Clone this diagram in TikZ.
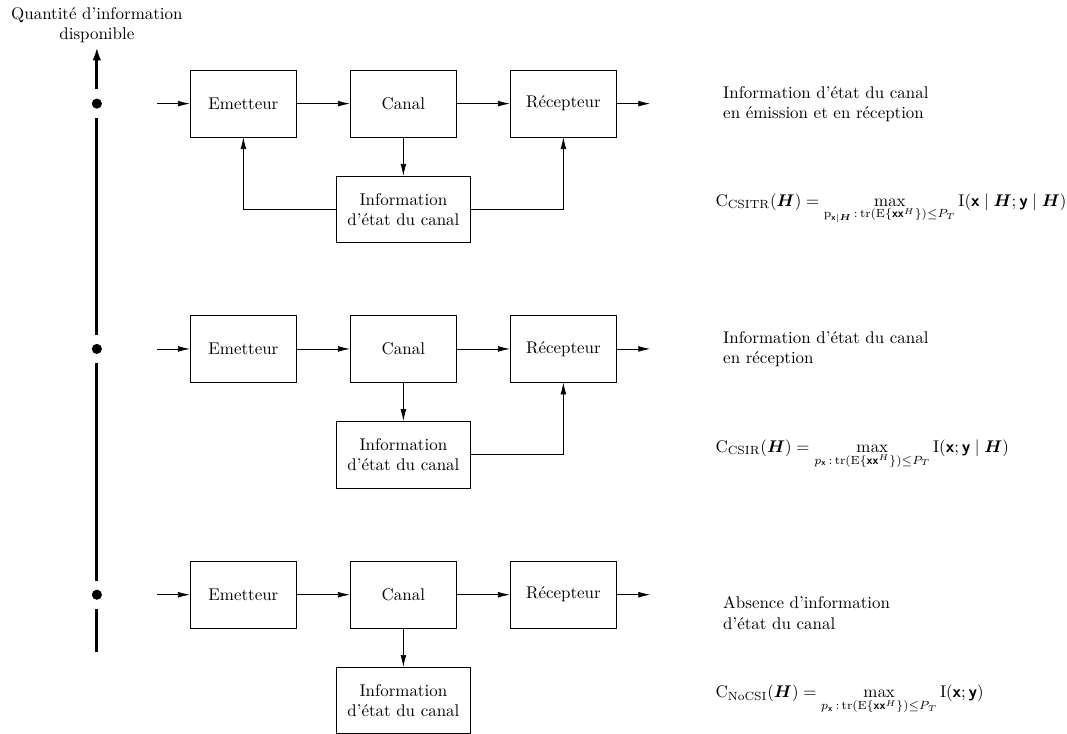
\documentclass[tikz,border=0pt]{standalone}
\usepackage{amsmath}
\usetikzlibrary{arrows.meta,positioning}
\newcommand{\vx}{\textsf{\bfseries x}}
\newcommand{\vy}{\textsf{\bfseries y}}
\newcommand{\mH}{\boldsymbol{H}}
\begin{document}
\begin{tikzpicture}[
        bloc/.style={draw,minimum width=2.21cm,minimum height=1.38cm},
        blocinfo/.style={draw,minimum width=2.77cm,minimum height=1.38cm,align=center},
        fleche/.style={-{Latex[length=7pt,width=3.4pt]}},
        point/.style={circle,fill,inner sep=0pt,minimum size=0.21cm,outer sep=0.19cm},
        axe/.style={line width=1.9pt,-{Latex[length=8pt,width=5pt]}},
        texte/.style={anchor=west,align=left,inner sep=0pt}]
    \useasboundingbox (0,0) rectangle (22.14,-15.23);
    \foreach \r/\y in {1/-2.15,2/-7.24,3/-12.34}{
        \node[point] (p\r) at (2.01,\y) {};
        \coordinate (e\r) at (3.26,\y);
        \node[bloc] (em\r) at (5.05,\y) {Emetteur};
        \node[bloc] (ca\r) at (8.37,\y) {Canal};
        \node[bloc] (re\r) at (11.69,\y) {Récepteur};
        \coordinate (s\r) at (13.49,\y);
        \node[blocinfo,below=0.8cm of ca\r] (in\r) {Information\\d'état du canal};
        \draw[fleche] (e\r) -- (em\r);
        \draw[fleche] (em\r) -- (ca\r);
        \draw[fleche] (ca\r) -- (re\r);
        \draw[fleche] (re\r) -- (s\r);
        \draw[fleche] (ca\r) -- (in\r);
    }
    \draw[fleche] (in1.west) -| (em1.south);
    \draw[fleche] (in1.east) -| (re1.south);
    \draw[fleche] (in2.east) -| (re2.south);
    \coordinate (bas) at (2.01,-13.53);
    \coordinate (haut) at (2.01,-0.97);
    \draw[axe] (bas) -- (p3) (p3) -- (p2) (p2) -- (p1) (p1) -- (haut);
    \node[above,align=center,inner sep=2pt] (titre) at (haut) {Quantité d'information\\disponible};
    \node[texte] (t1) at (15.0,-2.16) {Information d'état du canal\\en émission et en réception};
    \node[texte] (t2) at (15.0,-7.24) {Information d'état du canal\\en réception};
    \node[texte] (t3) at (15.0,-12.72) {Absence d'information\\d'état du canal};
    \node[texte] (f1) at (14.84,-4.33) {$\mathrm{C}_{\mathrm{CSITR}}(\mH) = \max\limits_{\mathrm{p}_{\vx|\mH}\,:\,\mathrm{tr}(\mathrm{E}\{\vx\vx^{H}\})\leq P_T} \mathrm{I}(\vx \mid \mH ; \vy \mid \mH)$};
    \node[texte] (f2) at (14.84,-9.42) {$\mathrm{C}_{\mathrm{CSIR}}(\mH) = \max\limits_{p_{\vx}\,:\,\mathrm{tr}(\mathrm{E}\{\vx\vx^{H}\})\leq P_T} \mathrm{I}(\vx ; \vy \mid \mH)$};
    \node[texte] (f3) at (14.84,-14.52) {$\mathrm{C}_{\mathrm{NoCSI}}(\mH) = \max\limits_{p_{\vx}\,:\,\mathrm{tr}(\mathrm{E}\{\vx\vx^{H}\})\leq P_T} \mathrm{I}(\vx ; \vy)$};
\end{tikzpicture}
\end{document}
